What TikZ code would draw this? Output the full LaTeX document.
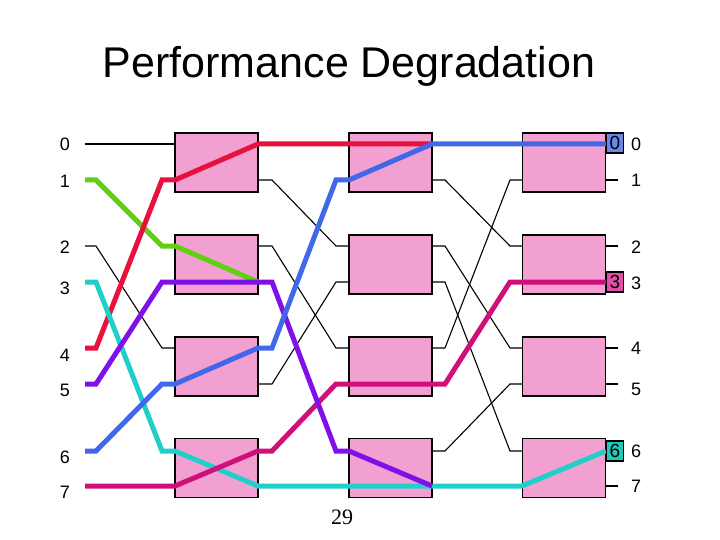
\documentclass[tikz,border=0pt]{standalone}
\usepackage{fontspec}
\setmainfont{Liberation Sans}
\newfontfamily\serifnum{Liberation Serif}
\usetikzlibrary{calc}
\definecolor{boxpink}{HTML}{F2A0D2}
\definecolor{wred}{HTML}{E8103C}
\definecolor{wgreen}{HTML}{60D010}
\definecolor{wcyan}{HTML}{20D0C8}
\definecolor{wpurple}{HTML}{8010E8}
\definecolor{wblue}{HTML}{4068E8}
\definecolor{wmag}{HTML}{D0107A}
\definecolor{lblue}{HTML}{6888E8}
\definecolor{lmag}{HTML}{E050A8}
\definecolor{lteal}{HTML}{20C8B8}
\tikzset{
  swbox/.style={draw=black, line width=1.6pt, fill=boxpink, minimum width=83pt, minimum height=59pt, inner sep=0pt},
  wirethin/.style={draw=black, line width=1.1pt},
  wirethick/.style={line width=5pt, line join=miter},
  lbl/.style={font=\fontsize{18}{18}\selectfont, inner sep=0pt},
  tag/.style={draw=black, line width=1.2pt, minimum width=17pt, minimum height=20pt, inner sep=0pt, font=\fontsize{19}{19}\selectfont}
}
\begin{document}
\begin{tikzpicture}[x=1pt,y=-1pt]
\useasboundingbox (0,0) rectangle (720,540);
\foreach \k/\y in {0/144,1/180,2/246,3/282,4/348,5/384,6/451,7/486}{
  \coordinate (i\k) at (85,\y);
  \coordinate (ai\k) at (175,\y);
  \coordinate (ao\k) at (258,\y);
  \coordinate (bi\k) at (349,\y);
  \coordinate (bo\k) at (432,\y);
  \coordinate (ci\k) at (522,\y);
  \coordinate (co\k) at (606,\y);
  \coordinate (o\k) at (618,\y);
}
% title
\node[font=\fontsize{43}{43}\selectfont, anchor=base] (title) at (349,78) {Performance Degradation};
% input labels
\foreach \k/\y in {0/144,1/181,2/247,3/288,4/355,5/390,6/457,7/492}{
  \node[lbl] (li\k) at (65,\y) {\k};
}
% output labels
\foreach \k/\y in {0/144,1/180,2/247,3/283,4/348,5/389,6/451,7/486}{
  \node[lbl] (lo\k) at (636,\y) {\k};
}
% black wires
\draw[wirethin] (i0) -- (ai0);
\draw[wirethin] (i2) -- ++(11,0) -- ($(ai4)+(-13,0)$) -- (ai4);
\draw[wirethin] (ao1) -- ++(14,0) -- ($(bi2)+(-13,0)$) -- (bi2);
\draw[wirethin] (ao2) -- ++(14,0) -- ($(bi4)+(-13,0)$) -- (bi4);
\draw[wirethin] (ao5) -- ++(14,0) -- ($(bi3)+(-13,0)$) -- (bi3);
\draw[wirethin] (bo1) -- ++(13,0) -- ($(ci2)+(-12,0)$) -- (ci2);
\draw[wirethin] (bo2) -- ++(13,0) -- ($(ci4)+(-12,0)$) -- (ci4);
\draw[wirethin] (bo3) -- ++(13,0) -- ($(ci6)+(-12,0)$) -- (ci6);
\draw[wirethin] (bo4) -- ++(13,0) -- ($(ci1)+(-12,0)$) -- (ci1);
\draw[wirethin] (bo6) -- ++(13,0) -- ($(ci5)+(-12,0)$) -- (ci5);
\foreach \k in {1,2,4,5,7}{ \draw[wirethin] (co\k) -- (o\k); }
% switch boxes
\foreach \c/\x in {a/216.5,b/390.5,c/564}{
  \node[swbox] (\c1) at (\x,162.5) {};
  \node[swbox] (\c2) at (\x,264.5) {};
  \node[swbox] (\c3) at (\x,366.5) {};
  \node[swbox] (\c4) at (\x,468) {};
}
% coloured paths
\draw[wirethick, wgreen] (i1) -- ++(11,0) -- ($(ai2)+(-13,0)$) -- (ai2) -- (ao3);
\draw[wirethick, wred] (i4) -- ++(11,0) -- ($(ai1)+(-13,0)$) -- (ai1) -- (ao0) -- (bo0);
\draw[wirethick, wcyan] (i3) -- ++(11,0) -- ($(ai6)+(-13,0)$) -- (ai6) -- (ao7) -- (ci7) -- (co6);
\draw[wirethick, wmag] (i7) -- (ai7) -- (ao6) -- ++(14,0) -- ($(bi5)+(-13,0)$) -- (bi5) -- (bo5)
  -- ++(13,0) -- ($(ci3)+(-12,0)$) -- (ci3) -- (co3);
\draw[wirethick, wpurple] (i5) -- ++(11,0) -- ($(ai3)+(-13,0)$) -- (ai3) -- (ao3) -- ++(14,0)
  -- ($(bi6)+(-13,0)$) -- (bi6) -- (bo7);
\draw[wirethick, wblue] (i6) -- ++(11,0) -- ($(ai5)+(-13,0)$) -- (ai5) -- (ao4) -- ++(14,0)
  -- ($(bi1)+(-13,0)$) -- (bi1) -- (bo0) -- (co0);
% output tags
\node[tag, fill=lblue] (t0) at (615,143) {0};
\node[tag, fill=lmag] (t3) at (615,282) {3};
\node[tag, fill=lteal] (t6) at (615,451) {6};
% page number
\node[font=\serifnum\fontsize{22}{22}\selectfont] (pg) at (342,517) {29};
\end{tikzpicture}
\end{document}
